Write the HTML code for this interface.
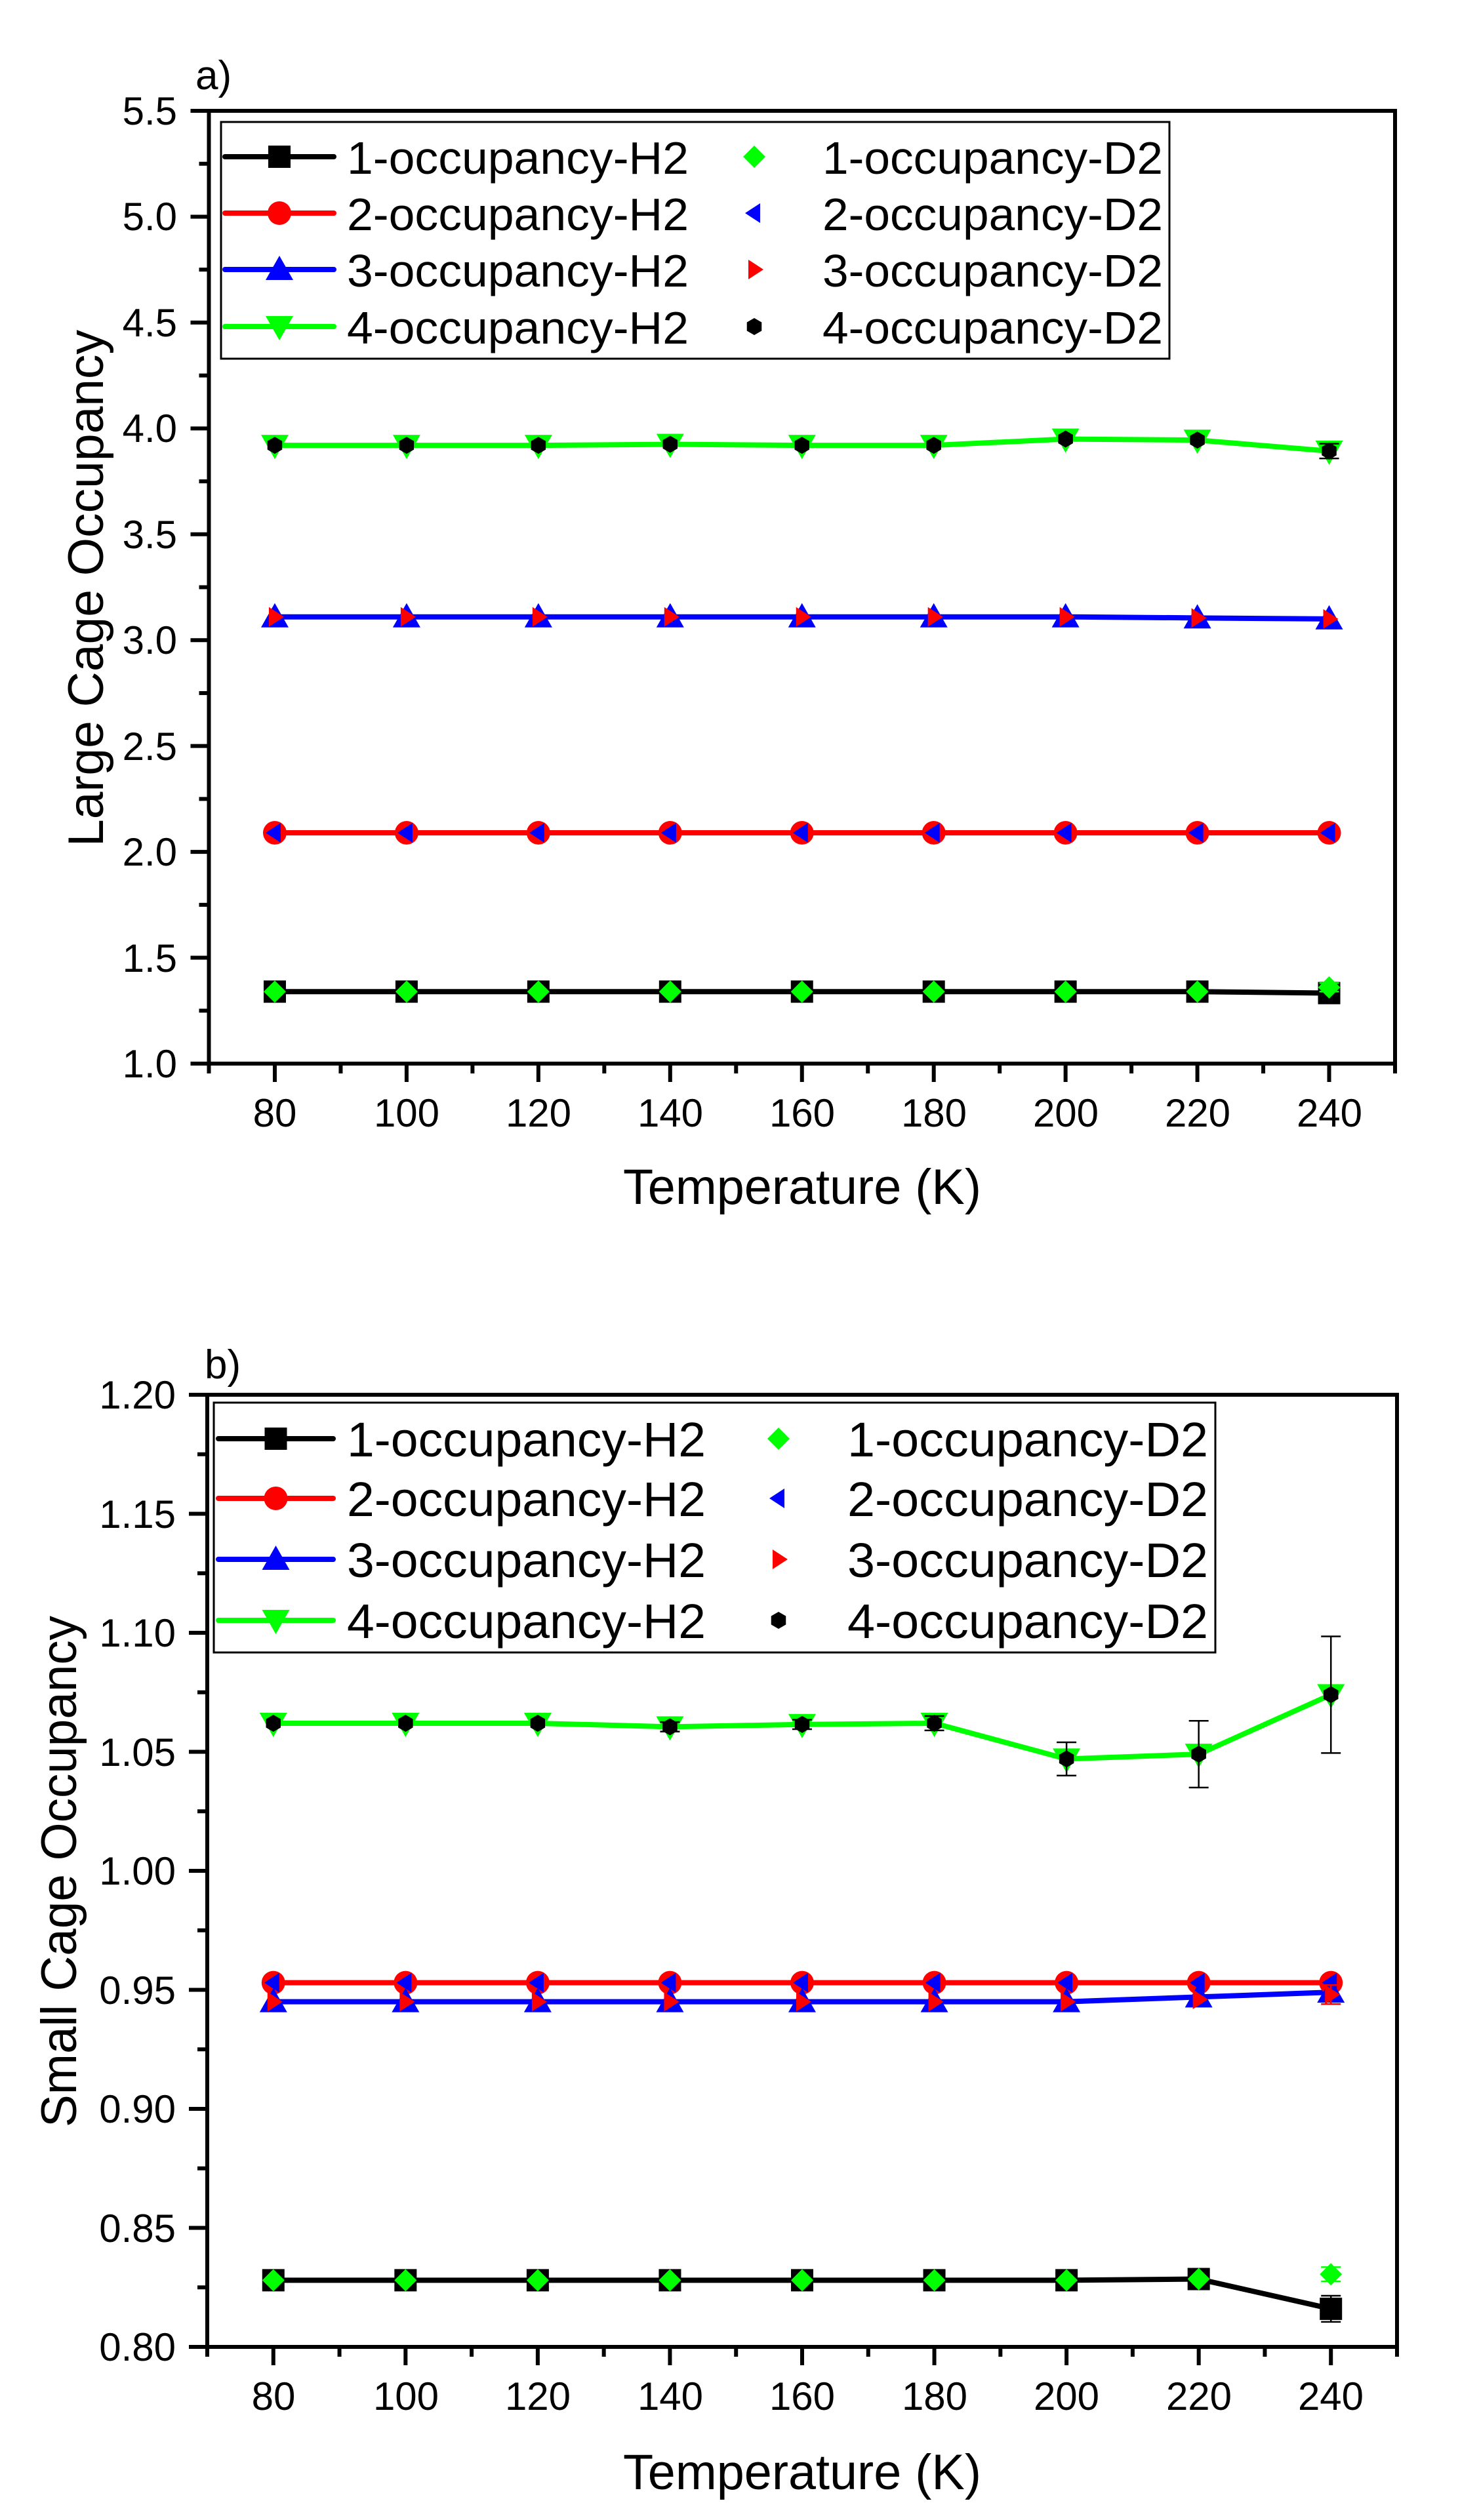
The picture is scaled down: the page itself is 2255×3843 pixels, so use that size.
<!DOCTYPE html>
<html><head><meta charset="utf-8"><style>
html,body{margin:0;padding:0;background:#fff;}
svg{display:block;}
text{font-family:"Liberation Sans",Arial,sans-serif;fill:#000;}
</style></head><body>
<svg id="s" width="2255" height="3843" viewBox="0 0 2255 3843" xmlns="http://www.w3.org/2000/svg">
<rect width="2255" height="3843" fill="#fff"/>
<g id="plots"></g>
<!-- Panel a texts -->
<text x="298" y="136" font-size="62">a)</text>
<g font-size="60" text-anchor="end">
<text x="270" y="190">5.5</text><text x="270" y="351">5.0</text><text x="270" y="513">4.5</text>
<text x="270" y="674">4.0</text><text x="270" y="836">3.5</text><text x="270" y="997">3.0</text>
<text x="270" y="1159">2.5</text><text x="270" y="1320">2.0</text><text x="270" y="1482">1.5</text>
<text x="270" y="1643">1.0</text>
</g>
<g font-size="60" text-anchor="middle">
<text x="419" y="1718">80</text><text x="620" y="1718">100</text><text x="821" y="1718">120</text>
<text x="1022" y="1718">140</text><text x="1223" y="1718">160</text><text x="1424" y="1718">180</text>
<text x="1625" y="1718">200</text><text x="1826" y="1718">220</text><text x="2027" y="1718">240</text>
</g>
<text x="1223" y="1836" font-size="76" text-anchor="middle" textLength="546" lengthAdjust="spacingAndGlyphs">Temperature (K)</text>
<text transform="translate(157,897) rotate(-90)" font-size="76" text-anchor="middle" textLength="788" lengthAdjust="spacingAndGlyphs">Large Cage Occupancy</text>
<g font-size="70">
<text x="529" y="265" textLength="521" lengthAdjust="spacingAndGlyphs">1-occupancy-H2</text>
<text x="529" y="351" textLength="521" lengthAdjust="spacingAndGlyphs">2-occupancy-H2</text>
<text x="529" y="437" textLength="521" lengthAdjust="spacingAndGlyphs">3-occupancy-H2</text>
<text x="529" y="524" textLength="521" lengthAdjust="spacingAndGlyphs">4-occupancy-H2</text>
<text x="1254" y="265" textLength="519" lengthAdjust="spacingAndGlyphs">1-occupancy-D2</text>
<text x="1254" y="351" textLength="519" lengthAdjust="spacingAndGlyphs">2-occupancy-D2</text>
<text x="1254" y="437" textLength="519" lengthAdjust="spacingAndGlyphs">3-occupancy-D2</text>
<text x="1254" y="524" textLength="519" lengthAdjust="spacingAndGlyphs">4-occupancy-D2</text>
</g>
<!-- Panel b texts -->
<text x="312" y="2102" font-size="62">b)</text>
<g font-size="60" text-anchor="end">
<text x="268" y="2148">1.20</text><text x="268" y="2330">1.15</text><text x="268" y="2511">1.10</text>
<text x="268" y="2693">1.05</text><text x="268" y="2874">1.00</text><text x="268" y="3056">0.95</text>
<text x="268" y="3237">0.90</text><text x="268" y="3419">0.85</text><text x="268" y="3600">0.80</text>
</g>
<g font-size="60" text-anchor="middle">
<text x="417" y="3675">80</text><text x="619" y="3675">100</text><text x="820" y="3675">120</text>
<text x="1022" y="3675">140</text><text x="1223" y="3675">160</text><text x="1425" y="3675">180</text>
<text x="1626" y="3675">200</text><text x="1828" y="3675">220</text><text x="2029" y="3675">240</text>
</g>
<text x="1223" y="3796" font-size="76" text-anchor="middle" textLength="546" lengthAdjust="spacingAndGlyphs">Temperature (K)</text>
<text transform="translate(116,2854) rotate(-90)" font-size="76" text-anchor="middle" textLength="780" lengthAdjust="spacingAndGlyphs">Small Cage Occupancy</text>
<g font-size="74">
<text x="529" y="2221" textLength="547" lengthAdjust="spacingAndGlyphs">1-occupancy-H2</text>
<text x="529" y="2312" textLength="547" lengthAdjust="spacingAndGlyphs">2-occupancy-H2</text>
<text x="529" y="2405" textLength="547" lengthAdjust="spacingAndGlyphs">3-occupancy-H2</text>
<text x="529" y="2498" textLength="547" lengthAdjust="spacingAndGlyphs">4-occupancy-H2</text>
<text x="1292" y="2221" textLength="550" lengthAdjust="spacingAndGlyphs">1-occupancy-D2</text>
<text x="1292" y="2312" textLength="550" lengthAdjust="spacingAndGlyphs">2-occupancy-D2</text>
<text x="1292" y="2405" textLength="550" lengthAdjust="spacingAndGlyphs">3-occupancy-D2</text>
<text x="1292" y="2498" textLength="550" lengthAdjust="spacingAndGlyphs">4-occupancy-D2</text>
</g>
</svg>
<script>
var NS="http://www.w3.org/2000/svg",G=document.getElementById("plots");
function el(t,a){var e=document.createElementNS(NS,t);for(var k in a)e.setAttribute(k,a[k]);G.appendChild(e);return e;}
function marker(type,x,y,c){
 if(type=="sq")el("rect",{x:x-17,y:y-17,width:34,height:34,fill:c});
 else if(type=="ci")el("circle",{cx:x,cy:y,r:18,fill:c});
 else if(type=="up")el("polygon",{points:(x-21)+","+(y+16)+" "+(x+21)+","+(y+16)+" "+x+","+(y-21),fill:c});
 else if(type=="dn")el("polygon",{points:(x-21)+","+(y-16)+" "+(x+21)+","+(y-16)+" "+x+","+(y+21),fill:c});
 else if(type=="di")el("polygon",{points:(x-17)+","+y+" "+x+","+(y-17)+" "+(x+17)+","+y+" "+x+","+(y+17),fill:c});
 else if(type=="lt")el("polygon",{points:(x-14)+","+y+" "+(x+9)+","+(y-15)+" "+(x+9)+","+(y+15),fill:c});
 else if(type=="rt")el("polygon",{points:(x+14)+","+y+" "+(x-9)+","+(y-15)+" "+(x-9)+","+(y+15),fill:c});
 else if(type=="hx"){var p=[];for(var i=0;i<6;i++){var a=Math.PI/6+i*Math.PI/3;p.push((x+13*Math.cos(a))+","+(y+13*Math.sin(a)));}el("polygon",{points:p.join(" "),fill:c});}
}
function errbar(x,y1,y2,c){el("line",{x1:x,y1:y1,x2:x,y2:y2,stroke:c,"stroke-width":2.5});
 el("line",{x1:x-15,y1:y1,x2:x+15,y2:y1,stroke:c,"stroke-width":2.5});el("line",{x1:x-15,y1:y2,x2:x+15,y2:y2,stroke:c,"stroke-width":2.5});}
var T=[80,100,120,140,160,180,200,220,240];
function panel(P){
 var X=function(t){return P.x0+(t-70)*(P.x1-P.x0)/180;},Y=function(v){return P.yb-(v-P.vmin)*(P.yb-P.yt)/(P.vmax-P.vmin);};
 var H=[["sq","#000"],["ci","#f00"],["up","#00f"],["dn","#0f0"]],D=[["di","#0f0"],["lt","#00f"],["rt","#f00"],["hx","#000"]];
 for(var s=0;s<4;s++){var pts=T.map(function(t,i){return X(t)+","+Y(P.h[s][i]);}).join(" ");
  el("polyline",{points:pts,fill:"none",stroke:H[s][1],"stroke-width":8});}
 for(var s=0;s<4;s++){T.forEach(function(t,i){marker(H[s][0],X(t),Y(P.h[s][i]),H[s][1]);});}
 (P.eh||[]).forEach(function(e){errbar(X(e[0]),Y(e[1]+e[2]),Y(e[1]-e[2]),e[3]);});
 for(var s=0;s<4;s++){T.forEach(function(t,i){marker(D[s][0],X(t),Y(P.d[s][i]),D[s][1]);});}
 (P.ed||[]).forEach(function(e){errbar(X(e[0]),Y(e[1]+e[2]),Y(e[1]-e[2]),e[3]);});
 el("rect",{x:P.x0,y:P.yt,width:P.x1-P.x0,height:P.yb-P.yt,fill:"none",stroke:"#000","stroke-width":6});
 for(var t=70;t<=250;t+=10){var maj=(t%20==0);el("line",{x1:X(t),y1:P.yb,x2:X(t),y2:P.yb+(maj?28:15),stroke:"#000","stroke-width":6});}
 var n=Math.round((P.vmax-P.vmin)/P.st*2);
 for(var i=0;i<=n;i++){var v=P.vmin+i*P.st/2,maj=(i%2==0);el("line",{x1:P.x0,y1:Y(v),x2:P.x0-(maj?28:15),y2:Y(v),stroke:"#000","stroke-width":6});}
 var L=P.L;el("rect",{x:L.x,y:L.y,width:L.w,height:L.h,fill:"none",stroke:"#000","stroke-width":3});
 for(var r=0;r<4;r++){var yy=L.rows[r];
  el("line",{x1:L.l1,y1:yy,x2:L.l2,y2:yy,stroke:H[r][1],"stroke-width":8,"stroke-linecap":"round"});
  marker(H[r][0],(L.l1+L.l2)/2,yy,H[r][1]);marker(D[r][0],L.m2,yy,D[r][1]);}
}
function c(v){return T.map(function(){return v;});}
panel({x0:318.5,x1:2127,yt:169,yb:1622,vmin:1,vmax:5.5,st:0.5,
 h:[[1.34,1.34,1.34,1.34,1.34,1.34,1.34,1.34,1.333],c(2.09),[3.11,3.11,3.11,3.11,3.11,3.11,3.11,3.105,3.10],[3.92,3.92,3.92,3.925,3.92,3.92,3.95,3.945,3.893]],
 d:[[1.34,1.34,1.34,1.34,1.34,1.34,1.34,1.34,1.36],c(2.09),[3.11,3.11,3.11,3.11,3.11,3.11,3.11,3.105,3.10],[3.92,3.92,3.92,3.925,3.92,3.92,3.95,3.945,3.893]],
 ed:[[240,3.893,0.035,"#000"],[240,1.36,0.02,"#0f0"]],
 L:{x:337,y:186,w:1446,h:361,rows:[239,325,411,498],l1:343,l2:509,m2:1150}});
panel({x0:316,x1:2130,yt:2127,yb:3579,vmin:0.8,vmax:1.2,st:0.05,
 h:[[0.828,0.828,0.828,0.828,0.828,0.828,0.828,0.8285,0.816],c(0.953),[0.945,0.945,0.945,0.945,0.945,0.945,0.945,0.947,0.949],[1.062,1.062,1.062,1.0605,1.0615,1.062,1.047,1.049,1.074]],
 d:[[0.828,0.828,0.828,0.828,0.828,0.828,0.828,0.8285,0.8305],c(0.953),[0.945,0.945,0.945,0.945,0.945,0.945,0.945,0.946,0.948],[1.062,1.062,1.062,1.0605,1.0615,1.062,1.047,1.049,1.074]],
 eh:[[240,0.816,0.0055,"#000"]],
 ed:[[240,0.8305,0.003,"#0f0"],[240,0.948,0.004,"#f00"],[140,1.0605,0.002,"#000"],[160,1.0615,0.002,"#000"],[180,1.062,0.003,"#000"],[200,1.047,0.007,"#000"],[220,1.049,0.014,"#000"],[240,1.074,0.0245,"#000"]],
 L:{x:326,y:2139,w:1527,h:381,rows:[2194,2285,2378,2471],l1:333,l2:508,m2:1187}});
</script>
</body></html>
